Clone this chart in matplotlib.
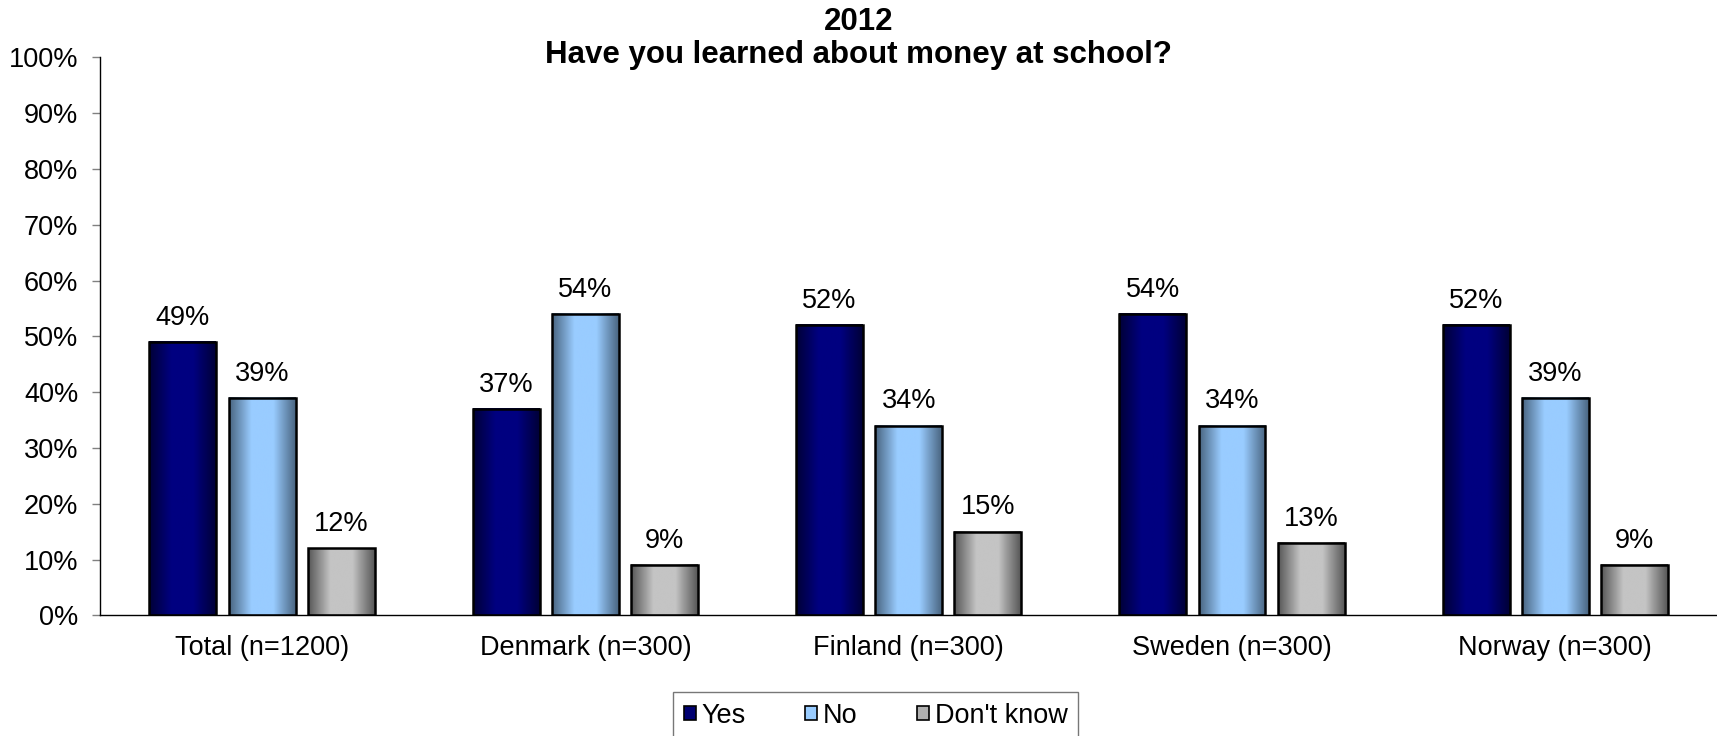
import matplotlib.pyplot as plt
import matplotlib.colors as mcolors
from matplotlib.patches import Patch
import numpy as np

plt.rcParams['font.family'] = ['Liberation Sans', 'DejaVu Sans']

groups = ['Total (n=1200)', 'Denmark (n=300)', 'Finland (n=300)', 'Sweden (n=300)', 'Norway (n=300)']
series = ['Yes', 'No', "Don't know"]
yes = [49, 37, 52, 54, 52]
no = [39, 54, 34, 34, 39]
dont_know = [12, 9, 15, 13, 9]
values = [yes, no, dont_know]

# edge colour, centre colour of the horizontal gradient for each series
shades = [('#000038', '#000080'),
          ('#4a6682', '#99ccff'),
          ('#585858', '#c4c4c4')]
legend_colors = ['#000070', '#99ccff', '#b0b0b0']

fig = plt.figure(figsize=(17.17, 7.36), dpi=100)
ax = fig.add_axes([0.0585, 0.164, 0.9415, 0.758])

x = np.arange(len(groups))
width = 0.207
step = 0.245
fs = 19.5

for i, vals in enumerate(values):
    edge, centre = shades[i]
    cmap = mcolors.LinearSegmentedColormap.from_list('g%d' % i, [edge, centre, centre, edge])
    grad = np.linspace(0, 1, 64).reshape(1, -1)
    for j, v in enumerate(vals):
        x0 = x[j] + (i - 1) * step - width / 2
        ax.imshow(grad, cmap=cmap, extent=[x0, x0 + width, 0, v],
                  aspect='auto', interpolation='bicubic', zorder=2)
        ax.bar(x0 + width / 2, v, width, facecolor='none', edgecolor='black',
               linewidth=1.8, zorder=3)
        ax.text(x0 + width / 2, v + 2.0, '%d%%' % v, ha='center', va='bottom',
                fontsize=fs)

ax.set_xlim(-0.5, len(groups) - 0.5)
ax.set_ylim(0, 100)
ax.set_yticks(np.arange(0, 101, 10))
ax.set_yticklabels(['%d%%' % t for t in range(0, 101, 10)], fontsize=fs)
ax.set_xticks(x)
ax.set_xticklabels(groups, fontsize=fs)
ax.tick_params(axis='x', length=0, pad=14)
ax.tick_params(axis='y', length=6, width=1, color='#808080', pad=10)

for side in ['top', 'right']:
    ax.spines[side].set_visible(False)
ax.spines['left'].set_linewidth(1)
ax.spines['bottom'].set_linewidth(1)

fig.text(0.5, 0.99, '2012\nHave you learned about money at school?', ha='center', va='top',
         fontsize=22.5, fontweight='bold', linespacing=1.12)

handles = [Patch(facecolor=c, edgecolor='black', linewidth=1.2) for c in legend_colors]
leg = fig.legend(handles, series, loc='upper center', bbox_to_anchor=(0.51, 0.06),
                 ncol=3, fontsize=fs, frameon=True, fancybox=False, edgecolor='#555555',
                 handlelength=0.45, handleheight=0.45, handletextpad=0.2, columnspacing=2.2,
                 borderpad=0.4, borderaxespad=0)
leg.get_frame().set_linewidth(1)

fig.savefig('out.png', dpi=100)
